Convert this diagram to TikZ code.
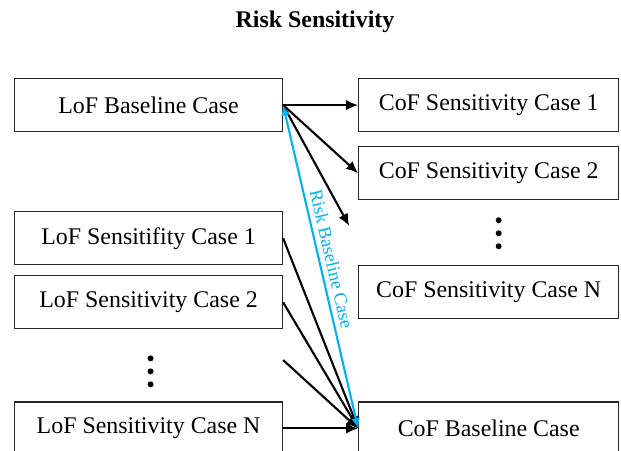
\documentclass[tikz,border=0pt]{standalone}
\usepackage{fontspec}
\setmainfont{Liberation Serif}
\usetikzlibrary{arrows.meta, positioning, calc}
\definecolor{cBlue}{RGB}{0,176,240}
\tikzset{
	lofbox/.style={rectangle, draw=black!85, line width=0.8pt, minimum width=6.7cm, minimum height=1.325cm, text centered},
	cofbox/.style={lofbox, minimum width=6.5cm},
	flowarrow/.style={-{Latex[length=3mm, width=2.6mm]}, line width=1.5pt},
	baselink/.style={{Latex[length=2.6mm, width=2.2mm]}-{Latex[length=2.6mm, width=2.2mm]}, line width=1.5pt, draw=cBlue},
	vdot/.style={circle, fill=black, inner sep=0pt, minimum size=0.15cm},
}

\begin{document}
\begin{tikzpicture}[font=\fontsize{17}{20}\selectfont, node distance=0.35cm]
	\useasboundingbox (0,0) rectangle (15.525,-11.25);
	\node[font=\fontsize{17}{20}\selectfont\bfseries] (title) at (7.875,-0.55) {Risk Sensitivity};
	% left column
	\node[lofbox, anchor=north west] (lofbase) at (0.35,-1.95) {LoF Baseline Case};
	\node[lofbox, below=1.975cm of lofbase] (lofs1) {LoF Sensitifity Case 1};
	\node[lofbox, below=0.25cm of lofs1] (lofs2) {LoF Sensitivity Case 2};
	\node[lofbox, below=1.8cm of lofs2] (lofsn) {LoF Sensitivity Case N};
	% right column
	\node[cofbox, right=1.875cm of lofbase] (cofs1) {CoF Sensitivity Case 1};
	\node[cofbox, below=of cofs1] (cofs2) {CoF Sensitivity Case 2};
	\node[cofbox, below=1.625cm of cofs2] (cofsn) {CoF Sensitivity Case N};
	\node[cofbox, below=2.05cm of cofsn] (cofbase) {CoF Baseline Case};
	% dots
	\foreach \k in {0,1,2} {
		\node[vdot] (ldot\k) at ($(lofsn.north)+(0.05,1.075-0.325*\k)$) {};
		\node[vdot] (rdot\k) at ($(cofsn.north)+(0.25,1.125-0.325*\k)$) {};
	}
	% arrows
	\coordinate (cofmore) at ($(lofbase.east)+(1.65,-3.02)$);
	\coordinate (lofmore) at ($(lofsn.east)+(0,1.71)$);
	\draw[flowarrow] (lofbase.east) -- (cofs1.west);
	\draw[flowarrow] (lofbase.east) -- (cofs2.west);
	\draw[flowarrow] (lofbase.east) -- (cofmore);
	\draw[flowarrow] (lofs1.east) -- (cofbase.west);
	\draw[flowarrow] (lofs2.east) -- (cofbase.west);
	\draw[flowarrow] (lofmore) -- (cofbase.west);
	\draw[flowarrow] (lofsn.east) -- (cofbase.west);
	\draw[baselink] (lofbase.east) -- node[pos=0.485, sloped, above, inner sep=3.5pt, font=\fontsize{13}{15}\selectfont, text=cBlue] (risklabel) {Risk Baseline Case} (cofbase.west);
\end{tikzpicture}
\end{document}
